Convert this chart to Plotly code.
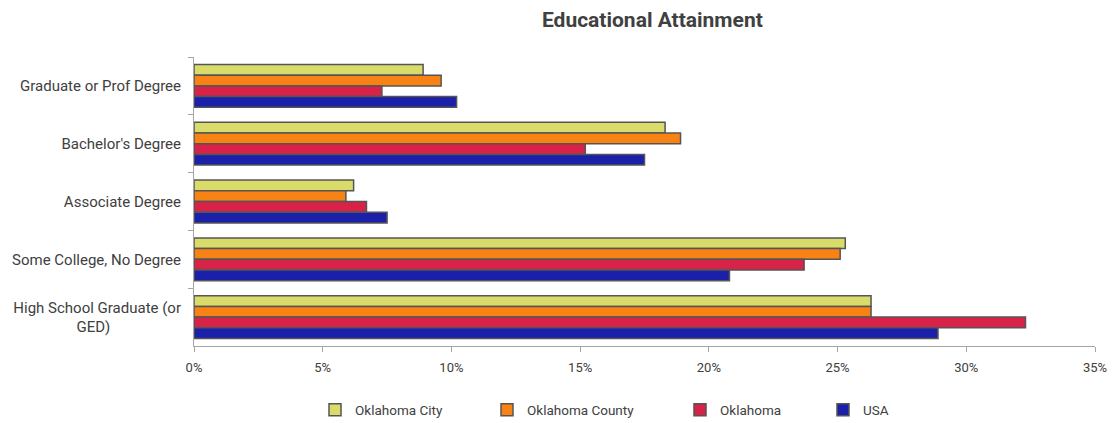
import plotly.graph_objects as go

# Education levels, listed top to bottom
categories = [
    "Graduate or Prof Degree",
    "Bachelor's Degree",
    "Associate Degree",
    "Some College, No Degree",
    "High School Graduate (or<br>GED)" + "\u00a0" * 19,
]

# Share of population 25+ (percent)
okc = [8.9, 18.3, 6.2, 25.3, 26.3]
ok_county = [9.6, 18.9, 5.9, 25.1, 26.3]
oklahoma = [7.3, 15.2, 6.7, 23.7, 32.3]
usa = [10.2, 17.5, 7.5, 20.8, 28.9]

series = [
    ("Oklahoma City", okc, "#D9DC6A"),
    ("Oklahoma County", ok_county, "#F98214"),
    ("Oklahoma", oklahoma, "#D92248"),
    ("USA", usa, "#1A20AA"),
]

x_ticks = [0, 5, 10, 15, 20, 25, 30, 35]

FONT = "Roboto"
TEXT = "#404040"
AXIS = "#a6a6a6"

# one legend box per series so each entry sits at its own spot
legend_ids = ["legend", "legend2", "legend3", "legend4"]
legend_x = [315, 487, 680, 823]

fig = go.Figure()
for (name, vals, color), lid in zip(series, legend_ids):
    fig.add_trace(go.Bar(
        y=categories,
        x=[v / 100 for v in vals],
        name=name,
        orientation="h",
        legend=lid,
        marker=dict(color=color, line=dict(color="#555555", width=1.5)),
    ))

legend_style = dict(
    orientation="h",
    xref="container", yref="container",
    y=13 / 423, yanchor="middle",
    xanchor="left",
    font=dict(family=FONT, size=13.5, color=TEXT),
    itemwidth=30,
    bgcolor="rgba(0,0,0,0)",
)

layout_legends = {}
for lid, lx in zip(legend_ids, legend_x):
    layout_legends[lid] = dict(legend_style, x=lx / 1119)

fig.update_layout(
    width=1119,
    height=423,
    barmode="group",
    bargap=0.26,
    bargroupgap=0,
    paper_bgcolor="white",
    plot_bgcolor="white",
    margin=dict(l=194, r=21, t=57, b=77),
    title=dict(
        text="<b>Educational Attainment</b>",
        x=0.583, xanchor="center", y=0.953, yanchor="middle",
        font=dict(family=FONT, size=21, color=TEXT),
    ),
    font=dict(family=FONT, size=13, color=TEXT),
    showlegend=True,
    **layout_legends,
)

fig.update_xaxes(
    range=[0, 0.35],
    tickvals=[t / 100 for t in x_ticks],
    ticktext=[f"{t}%" for t in x_ticks],
    showgrid=False,
    zeroline=False,
    showline=True,
    linecolor=AXIS,
    linewidth=1,
    ticks="outside",
    ticklen=5,
    tickcolor=AXIS,
    ticklabelstandoff=4,
    tickfont=dict(family=FONT, size=13, color=TEXT),
)

fig.update_yaxes(
    autorange="reversed",
    showgrid=False,
    showline=True,
    linecolor=AXIS,
    linewidth=1,
    ticks="outside",
    ticklen=5,
    tickcolor=AXIS,
    tickson="boundaries",
    ticklabelstandoff=9,
    tickfont=dict(family=FONT, size=15, color=TEXT),
)

fig.write_html("out.html")
